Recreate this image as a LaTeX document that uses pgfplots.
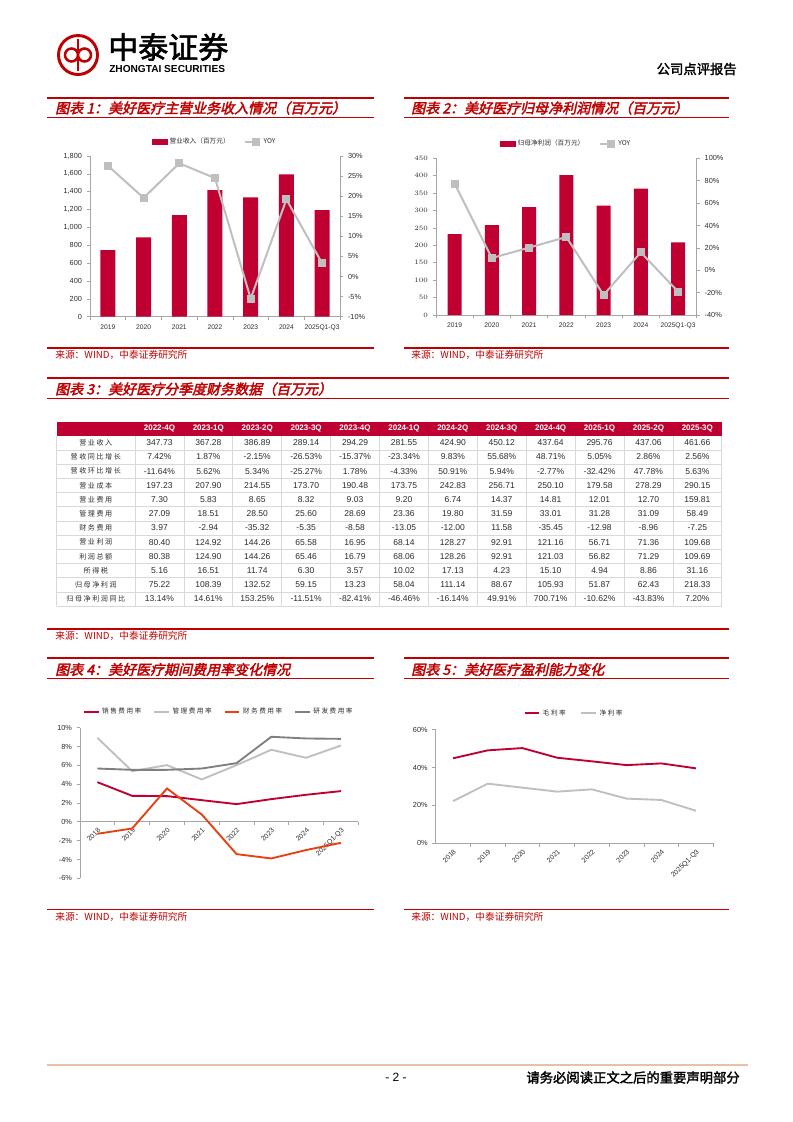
\documentclass[border=0pt]{standalone}
\usepackage{pgfplots}
\pgfplotsset{compat=1.18}
\usepackage{fontspec}
\setmainfont{Liberation Sans}
\newfontfamily\cjk{Noto Sans CJK SC}
\newfontfamily\cjkls[LetterSpace=22]{Noto Sans CJK SC}
\newfontfamily\cjkb[FakeBold=2]{Noto Sans CJK SC}
\newfontfamily\cjkti[FakeBold=2.5,FakeSlant=0.22]{Noto Sans CJK SC}
\definecolor{crim}{RGB}{192,0,48}
\definecolor{tred}{RGB}{192,0,0}
\definecolor{axg}{RGB}{166,166,166}
\definecolor{lgray}{RGB}{191,191,191}
\definecolor{dgray}{RGB}{128,128,128}
\definecolor{orng}{RGB}{232,64,16}
\definecolor{txt}{RGB}{45,45,45}
\definecolor{gridc}{RGB}{217,217,217}
\definecolor{foot}{RGB}{232,192,165}

\newcommand{\trow}[3]{%
  \node[inner sep=0, text=txt, font=\cjkls\fontsize{5.3}{6}\selectfont] at (95.8,{435.7+14.2*(#1+0.5)}) {#2};
  \foreach \v [count=\j from 0] in {#3} {
    \node[inner sep=0, text=txt, font=\fontsize{6.4}{7}\selectfont] at ({135+48.9*(\j+0.5)},{435.7+14.2*(#1+0.5)}) {\v};
  }%
}

\pgfplotsset{
  base/.style={
    scale only axis, enlargelimits=false,
    axis line style={axg, line width=0.5pt},
    tick style={axg, line width=0.5pt},
    tick align=outside, major tick length=2.5pt, minor tick length=2.5pt,
    tick label style={font=\fontsize{5.5}{6}\selectfont, text=txt},
    major x tick style={draw=none},
  },
  linelegend/.style={legend image code/.code={\draw[##1] (0pt,0pt) -- (11pt,0pt);}},
  yoylegend/.style={legend image code/.code={\draw[mark repeat=2, mark phase=2, ##1] plot coordinates {(0pt,0pt) (8pt,0pt) (11pt,0pt)};}},
  barlegend/.style={legend image code/.code={\fill[crim] (0pt,-2pt) rectangle (11pt,2pt);}},
}

\begin{document}
\begin{tikzpicture}
\begin{scope}[x=0.75pt,y=-0.75pt]
\fill[white] (0,0) rectangle (793,1122);
\path[use as bounding box] (0,0) rectangle (793,1122);

% ---------- header ----------
\draw[tred, line width=2.2pt] (78,55) circle (19.5);
\draw[tred, line width=1.9pt] (78,39) -- (78,71);
\draw[tred, line width=1.9pt] (71.5,55) circle (6.5);
\draw[tred, line width=1.9pt] (84.5,55) circle (6.5);
\node[anchor=west, inner sep=0] at (108,47) {\cjkb\fontsize{22.5}{23}\selectfont 中泰证券};
\node[anchor=west, inner sep=0] at (109,69.5) {\bfseries\fontsize{7.6}{8}\selectfont ZHONGTAI SECURITIES};
\node[anchor=east, inner sep=0] at (737,69) {\cjkb\fontsize{10}{10}\selectfont 公司点评报告};

% ---------- section rules ----------
\foreach \a/\b in {47/374, 404/729} {
  \draw[tred, line width=1.3pt] (\a,98) -- (\b,98);
  \draw[tred, line width=0.8pt] (\a,117.3) -- (\b,117.3);
  \draw[tred, line width=0.8pt] (\a,348) -- (\b,348);
  \draw[tred, line width=1.3pt] (\a,658.3) -- (\b,658.3);
  \draw[tred, line width=0.8pt] (\a,678.3) -- (\b,678.3);
  \draw[tred, line width=0.8pt] (\a,909.3) -- (\b,909.3);
}
\draw[tred, line width=1.3pt] (47,378.3) -- (729,378.3);
\draw[tred, line width=0.8pt] (47,398.3) -- (729,398.3);
\draw[tred, line width=0.8pt] (47,629) -- (729,629);

% ---------- titles ----------
\node[anchor=west, inner sep=0, text=tred] at (55,108) {\cjkti\fontsize{10.5}{12}\selectfont 图表 1：美好医疗主营业务收入情况（百万元）};
\node[anchor=west, inner sep=0, text=tred] at (411,108) {\cjkti\fontsize{10.5}{12}\selectfont 图表 2：美好医疗归母净利润情况（百万元）};
\node[anchor=west, inner sep=0, text=tred] at (55,389) {\cjkti\fontsize{10.5}{12}\selectfont 图表 3：美好医疗分季度财务数据（百万元）};
\node[anchor=west, inner sep=0, text=tred] at (55,669.5) {\cjkti\fontsize{10.5}{12}\selectfont 图表 4：美好医疗期间费用率变化情况};
\node[anchor=west, inner sep=0, text=tred] at (411,669.5) {\cjkti\fontsize{10.5}{12}\selectfont 图表 5：美好医疗盈利能力变化};

% ---------- sources ----------
\foreach \sx/\sy in {55/355, 411/355, 55/635.5, 55/916.5, 411/916.5} {
  \node[anchor=west, inner sep=0, text=tred] at (\sx,\sy) {\cjk\fontsize{7.3}{8}\selectfont 来源：WIND，中泰证券研究所};
}

% ---------- table ----------
\fill[crim] (56.7,421.7) rectangle (721.7,435.7);
\foreach \k in {1,...,12} { \draw[gridc, line width=0.5pt] (56.7,{435.7+14.2*\k}) -- (721.7,{435.7+14.2*\k}); }
\draw[gridc, line width=0.5pt] (56.7,435.7) -- (56.7,606.1);
\foreach \j in {0,...,12} { \draw[gridc, line width=0.5pt] ({135+48.9*\j},435.7) -- ({135+48.9*\j},606.1); }
\foreach \h [count=\j from 0] in {2022-4Q,2023-1Q,2023-2Q,2023-3Q,2023-4Q,2024-1Q,2024-2Q,2024-3Q,2024-4Q,2025-1Q,2025-2Q,2025-3Q} {
  \node[inner sep=0, text=white, font=\bfseries\fontsize{6}{7}\selectfont] at ({135+48.9*(\j+0.5)},428.9) {\h};
}
\trow{0}{营业收入}{347.73,367.28,386.89,289.14,294.29,281.55,424.90,450.12,437.64,295.76,437.06,461.66}
\trow{1}{营收同比增长}{7.42\%,1.87\%,-2.15\%,-26.53\%,-15.37\%,-23.34\%,9.83\%,55.68\%,48.71\%,5.05\%,2.86\%,2.56\%}
\trow{2}{营收环比增长}{-11.64\%,5.62\%,5.34\%,-25.27\%,1.78\%,-4.33\%,50.91\%,5.94\%,-2.77\%,-32.42\%,47.78\%,5.63\%}
\trow{3}{营业成本}{197.23,207.90,214.55,173.70,190.48,173.75,242.83,256.71,250.10,179.58,278.29,290.15}
\trow{4}{营业费用}{7.30,5.83,8.65,8.32,9.03,9.20,6.74,14.37,14.81,12.01,12.70,159.81}
\trow{5}{管理费用}{27.09,18.51,28.50,25.60,28.69,23.36,19.80,31.59,33.01,31.28,31.09,58.49}
\trow{6}{财务费用}{3.97,-2.94,-35.32,-5.35,-8.58,-13.05,-12.00,11.58,-35.45,-12.98,-8.96,-7.25}
\trow{7}{营业利润}{80.40,124.92,144.26,65.58,16.95,68.14,128.27,92.91,121.16,56.71,71.36,109.68}
\trow{8}{利润总额}{80.38,124.90,144.26,65.46,16.79,68.06,128.26,92.91,121.03,56.82,71.29,109.69}
\trow{9}{所得税}{5.16,16.51,11.74,6.30,3.57,10.02,17.13,4.23,15.10,4.94,8.86,31.16}
\trow{10}{归母净利润}{75.22,108.39,132.52,59.15,13.23,58.04,111.14,88.67,105.93,51.87,62.43,218.33}
\trow{11}{归母净利润同比}{13.14\%,14.61\%,153.25\%,-11.51\%,-82.41\%,-46.46\%,-16.14\%,49.91\%,700.71\%,-10.62\%,-43.83\%,7.20\%}

% ---------- footer ----------
\draw[foot, line width=2pt] (47,1065) -- (748,1065);
\node[inner sep=0] at (396,1077.5) {\fontsize{9}{10}\selectfont - 2 -};
\node[anchor=east, inner sep=0] at (740,1077.5) {\cjkb\fontsize{10}{11}\selectfont 请务必阅读正文之后的重要声明部分};

% anchors for the axes
\coordinate (A1) at (90,316.7);
\coordinate (A2) at (436,315);
\coordinate (A4) at (80,878.3);
\coordinate (A5) at (435.7,843.3);
\end{scope}

% ================= Chart 1 =================
\begin{axis}[base, at={(A1)}, anchor=south west, width=187.5pt, height=120.5pt,
  xmin=-0.5, xmax=6.5, ymin=0, ymax=1800,
  axis x line*=bottom, axis y line*=left,
  xtick={0,...,6}, xticklabels={2019,2020,2021,2022,2023,2024,2025Q1-Q3},
  xticklabel style={font=\fontsize{5}{6}\selectfont},
  minor xtick={-0.5,0.5,...,6.5},
  ytick={0,200,...,1800}, yticklabels={0,200,400,600,800,{1,000},{1,200},{1,400},{1,600},{1,800}},
  ybar, bar width=11.25pt]
\addplot[fill=crim, draw=none] coordinates {(0,747) (1,889) (2,1139) (3,1419) (4,1337) (5,1594) (6,1195)};
\end{axis}
\begin{axis}[base, at={(A1)}, anchor=south west, width=187.5pt, height=120.5pt,
  xmin=-0.5, xmax=6.5, ymin=-10, ymax=30,
  axis x line=none, axis y line*=right, xtick=\empty,
  ytick={-10,-5,...,30}, yticklabels={-10\%,-5\%,0\%,5\%,10\%,15\%,20\%,25\%,30\%},
  legend style={at={(0.5,1)}, anchor=center, yshift=10.5pt, draw=none, fill=none, legend columns=-1,
    font=\cjk\fontsize{5}{6}\selectfont, text=txt, /tikz/every even column/.append style={column sep=9pt}}]
\addlegendimage{barlegend}
\addlegendentry{营业收入（百万元）}
\addplot[color=lgray, line width=1.5pt, mark=square*, mark size=2.2pt, mark options={fill=lgray, draw=lgray}, yoylegend]
  coordinates {(0,27.6) (1,19.6) (2,28.2) (3,24.5) (4,-5.5) (5,19.2) (6,3.3)};
\addlegendentry{YOY}
\end{axis}

% ================= Chart 2 =================
\begin{axis}[base, at={(A2)}, anchor=south west, width=195.5pt, height=117.5pt,
  xmin=-0.5, xmax=6.5, ymin=0, ymax=450,
  axis x line*=bottom, axis y line*=left,
  xtick={0,...,6}, xticklabels={2019,2020,2021,2022,2023,2024,2025Q1-Q3},
  xticklabel style={font=\fontsize{5}{6}\selectfont},
  minor xtick={-0.5,0.5,...,6.5},
  ytick={0,50,...,450},
  ybar, bar width=10.5pt]
\addplot[fill=crim, draw=none] coordinates {(0,232.6) (1,258.5) (2,310) (3,402) (4,314) (5,363) (6,208.7)};
\end{axis}
\begin{axis}[base, at={(A2)}, anchor=south west, width=195.5pt, height=117.5pt,
  xmin=-0.5, xmax=6.5, ymin=-40, ymax=100,
  axis x line=none, axis y line*=right, xtick=\empty,
  ytick={-40,-20,...,100}, yticklabels={-40\%,-20\%,0\%,20\%,40\%,60\%,80\%,100\%},
  legend style={at={(0.5,1)}, anchor=center, yshift=10.7pt, draw=none, fill=none, legend columns=-1,
    font=\cjk\fontsize{5}{6}\selectfont, text=txt, /tikz/every even column/.append style={column sep=9pt}}]
\addlegendimage{barlegend}
\addlegendentry{归母净利润（百万元）}
\addplot[color=lgray, line width=1.5pt, mark=square*, mark size=2.2pt, mark options={fill=lgray, draw=lgray}, yoylegend]
  coordinates {(0,77.4) (1,10.9) (2,20.2) (3,29.7) (4,-22.1) (5,16.0) (6,-19.1)};
\addlegendentry{YOY}
\end{axis}

% ================= Chart 4 =================
\begin{axis}[base, at={(A4)}, anchor=south west, width=208.7pt, height=113pt,
  xmin=-0.5, xmax=7.5, ymin=-6, ymax=10,
  axis x line*=middle, axis y line*=left, tick align=outside,
  hide obscured x ticks=false, hide obscured y ticks=false,
  xtick={0,...,7}, xticklabels={2018,2019,2020,2021,2022,2023,2024,2025Q1-Q3},
  xticklabel style={rotate=45, anchor=north east, inner sep=1pt, font=\fontsize{5.2}{6}\selectfont},
  minor xtick={0.5,1.5,...,7.5},
  ytick={-6,-4,...,10}, yticklabels={-6\%,-4\%,-2\%,0\%,2\%,4\%,6\%,8\%,10\%},
  legend style={at={(0.5,1)}, anchor=center, yshift=12pt, draw=none, fill=none, legend columns=-1,
    font=\cjkls\fontsize{5}{6}\selectfont, text=txt, /tikz/every even column/.append style={column sep=7pt}}]
\addplot[crim, line width=1.4pt, linelegend] coordinates {(0,4.21) (1,2.76) (2,2.73) (3,2.30) (4,1.88) (5,2.41) (6,2.87) (7,3.26)};
\addlegendentry{销售费用率}
\addplot[lgray, line width=1.4pt, linelegend] coordinates {(0,8.92) (1,5.38) (2,6.02) (3,4.50) (4,6.02) (5,7.65) (6,6.80) (7,8.10)};
\addlegendentry{管理费用率}
\addplot[orng, line width=1.4pt, linelegend] coordinates {(0,-1.27) (1,-0.71) (2,3.54) (3,0.78) (4,-3.43) (5,-3.89) (6,-3.00) (7,-2.23)};
\addlegendentry{财务费用率}
\addplot[dgray, line width=1.4pt, linelegend] coordinates {(0,5.66) (1,5.52) (2,5.52) (3,5.66) (4,6.23) (5,9.03) (6,8.85) (7,8.81)};
\addlegendentry{研发费用率}
\end{axis}

% ================= Chart 5 =================
\begin{axis}[base, at={(A5)}, anchor=south west, width=208.2pt, height=85.2pt,
  xmin=-0.5, xmax=7.5, ymin=0, ymax=60,
  axis x line*=bottom, axis y line*=left,
  xtick={0,...,7}, xticklabels={2018,2019,2020,2021,2022,2023,2024,2025Q1-Q3},
  xticklabel style={rotate=45, anchor=north east, inner sep=1pt, font=\fontsize{5.2}{6}\selectfont},
  minor xtick={0.5,1.5,...,7.5},
  ytick={0,20,40,60}, yticklabels={0\%,20\%,40\%,60\%},
  legend style={at={(0.5,1)}, anchor=center, yshift=12.3pt, draw=none, fill=none, legend columns=-1,
    font=\cjkls\fontsize{5}{6}\selectfont, text=txt, /tikz/every even column/.append style={column sep=9pt}}]
\addplot[crim, line width=1.4pt, linelegend] coordinates {(0,44.9) (1,49.1) (2,50.3) (3,45.2) (4,43.3) (5,41.3) (6,42.2) (7,39.6)};
\addlegendentry{毛利率}
\addplot[lgray, line width=1.4pt, linelegend] coordinates {(0,22.3) (1,31.5) (2,29.4) (3,27.3) (4,28.5) (5,23.6) (6,22.9) (7,17.2)};
\addlegendentry{净利率}
\end{axis}
\end{tikzpicture}
\end{document}
